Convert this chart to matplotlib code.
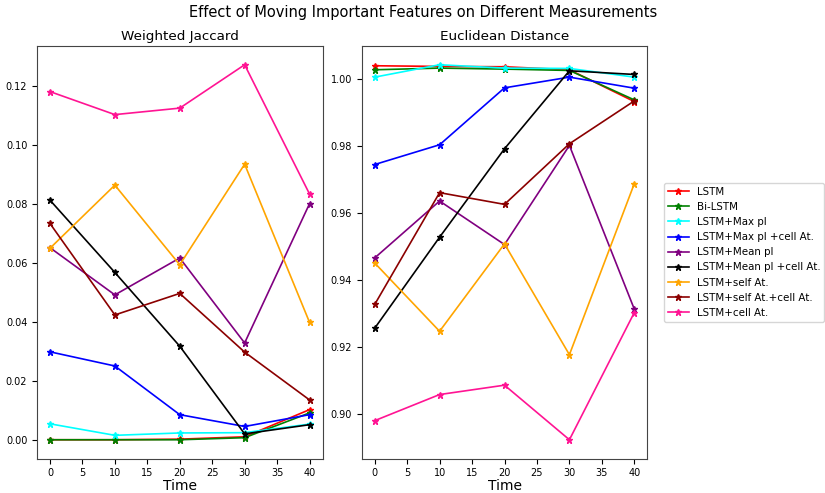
import matplotlib
matplotlib.use("Agg")
import matplotlib.pyplot as plt

time = [0, 10, 20, 30, 40]
labels = ["LSTM", "Bi-LSTM", "LSTM+Max pl", "LSTM+Max pl +cell At.", "LSTM+Mean pl",
          "LSTM+Mean pl +cell At.", "LSTM+self At.", "LSTM+self At.+cell At.", "LSTM+cell At."]
colors = ["red", "green", "cyan", "blue", "purple", "black", "orange", "darkred", "deeppink"]

jaccard_lstm = [0.0, 0.0, 0.0002, 0.001, 0.0102]
jaccard_bilstm = [0.0, 0.0, 0.0, 0.0007, 0.0091]
jaccard_maxpl = [0.0054, 0.0015, 0.0023, 0.0024, 0.0053]
jaccard_maxpl_cell = [0.0298, 0.0250, 0.0085, 0.0045, 0.0085]
jaccard_meanpl = [0.0651, 0.0491, 0.0616, 0.0328, 0.0800]
jaccard_meanpl_cell = [0.0812, 0.0567, 0.0317, 0.0020, 0.0051]
jaccard_self = [0.0649, 0.0863, 0.0593, 0.0934, 0.0398]
jaccard_self_cell = [0.0733, 0.0423, 0.0496, 0.0297, 0.0135]
jaccard_cell = [0.1180, 0.1102, 0.1124, 0.1271, 0.0833]

euclid_lstm = [1.0040, 1.0038, 1.0037, 1.0028, 0.9933]
euclid_bilstm = [1.0028, 1.0033, 1.0030, 1.0026, 0.9938]
euclid_maxpl = [1.0006, 1.0043, 1.0033, 1.0032, 1.0006]
euclid_maxpl_cell = [0.9745, 0.9804, 0.9974, 1.0006, 0.9973]
euclid_meanpl = [0.9466, 0.9636, 0.9506, 0.9802, 0.9313]
euclid_meanpl_cell = [0.9256, 0.9528, 0.9792, 1.0025, 1.0014]
euclid_self = [0.9451, 0.9247, 0.9508, 0.9177, 0.9688]
euclid_self_cell = [0.9327, 0.9661, 0.9626, 0.9807, 0.9935]
euclid_cell = [0.8980, 0.9058, 0.9086, 0.8923, 0.9303]

jaccard = [jaccard_lstm, jaccard_bilstm, jaccard_maxpl, jaccard_maxpl_cell, jaccard_meanpl,
           jaccard_meanpl_cell, jaccard_self, jaccard_self_cell, jaccard_cell]
euclid = [euclid_lstm, euclid_bilstm, euclid_maxpl, euclid_maxpl_cell, euclid_meanpl,
          euclid_meanpl_cell, euclid_self, euclid_self_cell, euclid_cell]

fig = plt.figure(figsize=(8.25, 4.93), dpi=100)
ax1 = fig.add_axes([37/825, 1-458.5/493, 285.5/825, 412.5/493])
ax2 = fig.add_axes([361.7/825, 1-458.5/493, 285.6/825, 412.5/493])

for ax, data, title in [(ax1, jaccard, "Weighted Jaccard"), (ax2, euclid, "Euclidean Distance")]:
    for vals, c, lab in zip(data, colors, labels):
        ax.plot(time, vals, color=c, marker='*', markersize=5, linewidth=1.2, label=lab)
    ax.set_title(title, fontsize=9.7, pad=4)
    ax.set_xlabel("Time", fontsize=10, labelpad=0.5)
    ax.tick_params(labelsize=7)
    ax.set_xticks(range(0, 41, 5))
    for sp in ax.spines.values():
        sp.set_color('#444444')

ax1.set_yticks([0.0, 0.02, 0.04, 0.06, 0.08, 0.10, 0.12])
ax2.set_yticks([0.90, 0.92, 0.94, 0.96, 0.98, 1.00])

ax2.legend(loc='center left', bbox_to_anchor=(1.04, 0.5), fontsize=7.4)
fig.text(423/825, 1-12.5/493, "Effect of Moving Important Features on Different Measurements",
         fontsize=10.5, ha='center', va='center')

fig.savefig("out.png", dpi=100)
